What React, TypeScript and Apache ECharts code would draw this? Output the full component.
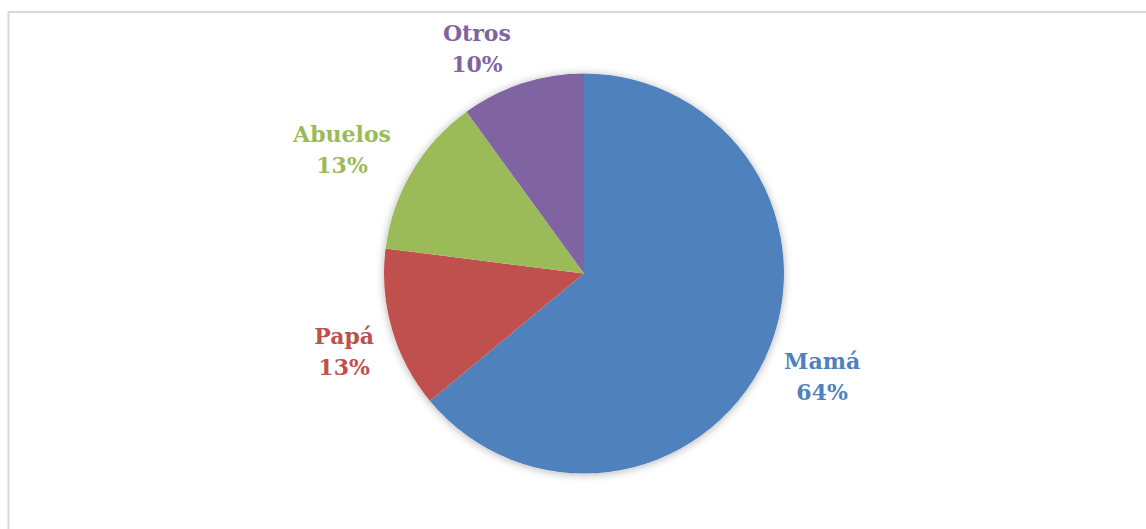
import React, { useEffect, useRef } from "react";
import * as echarts from "echarts";

const categories = ["Mamá", "Papá", "Abuelos", "Otros"];
const values = [64, 13, 13, 10];
const colors = ["#4F81BD", "#C0504D", "#9BBB59", "#8064A2"];
// label offsets (px) relative to ECharts' outside label anchor
const labelOffsets = [
  [30, 5],
  [-19, 14],
  [-44, -7],
  [-36, -6],
];

export default function App() {
  const ref = useRef<HTMLDivElement>(null);
  useEffect(() => {
    if (!ref.current) return;
    const chart = echarts.init(ref.current, null, { renderer: "svg" });
    const total = values.reduce((a, b) => a + b, 0);
    chart.setOption({
      animation: false,
      backgroundColor: "#ffffff",
      graphic: [
        {
          type: "rect",
          z: -10,
          shape: { x: 8.5, y: 12, width: 1300, height: 700 },
          style: { fill: "none", stroke: "#d9d9d9", lineWidth: 2 },
          silent: true,
        },
      ],
      series: [
        {
          type: "pie",
          silent: true,
          z: 1,
          center: [584, 273.5],
          radius: 200,
          label: { show: false },
          labelLine: { show: false },
          itemStyle: {
            color: "#ffffff",
            shadowBlur: 8,
            shadowColor: "rgba(0,0,0,0.3)",
            shadowOffsetX: 0,
            shadowOffsetY: 1,
          },
          data: [{ value: total, name: "" }],
        },
        {
          type: "pie",
          z: 2,
          center: [584, 273.5],
          radius: 200,
          startAngle: 90,
          clockwise: true,
          avoidLabelOverlap: false,
          label: {
            show: true,
            position: "outside",
            formatter: "{b}\n{d}%",
            fontFamily: "DejaVu Serif",
            fontWeight: "bold",
            fontSize: 22,
            lineHeight: 31,
            distanceToLabelLine: 0,
          },
          labelLine: { show: false, length: 30, length2: 0 },
          labelLayout: (params: any) => {
            const o = labelOffsets[params.dataIndex] || [0, 0];
            return { dx: o[0], dy: o[1], align: "center", verticalAlign: "middle" };
          },
          itemStyle: { borderWidth: 0 },
          data: categories.map((name, i) => ({
            name,
            value: values[i],
            itemStyle: { color: colors[i] },
            label: { color: colors[i] },
          })),
        },
      ],
    });
    return () => chart.dispose();
  }, []);
  return (
    <div
      ref={ref}
      style={{ position: "fixed", left: 0, top: 0, width: 1146, height: 529 }}
    />
  );
}
